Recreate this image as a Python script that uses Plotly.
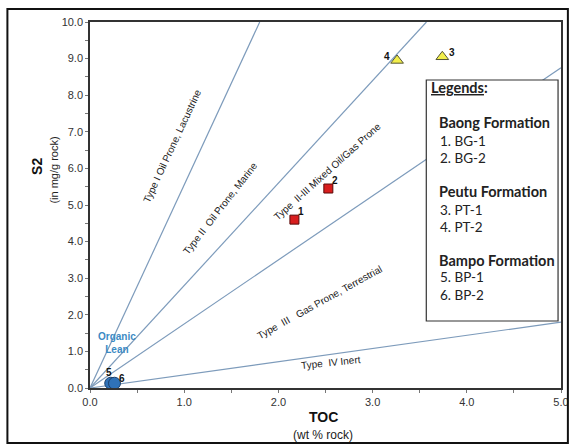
import plotly.graph_objects as go

# ---------------- data ----------------
baong_toc = [2.17, 2.53]
baong_s2 = [4.60, 5.45]
baong_lbl = ["1", "2"]

peutu_toc = [3.74, 3.26]
peutu_s2 = [9.05, 8.95]
peutu_lbl = ["3", "4"]

bampo_toc = [0.22, 0.26]
bampo_s2 = [0.13, 0.13]
bampo_lbl = ["5", "6"]

# kerogen boundary slopes (S2/TOC)
boundary_slopes = [5.55, 2.80, 1.75, 0.36]

x_ticks = [0, 1, 2, 3, 4, 5]
y_ticks = [0, 1, 2, 3, 4, 5, 6, 7, 8, 9, 10]

legend_groups = ["Baong Formation", "Peutu Formation", "Bampo Formation"]
legend_items = [["1. BG-1", "2. BG-2"], ["3. PT-1", "4. PT-2"], ["5. BP-1", "6. BP-2"]]

XMAX, YMAX = 5.0, 10.0

# ---------------- layout geometry ----------------
W, H = 578, 445
L, R, T, B = 90, 9, 22, 57
PW = W - L - R
PH = H - T - B


def px(x):
    return (x - L) / PW


def py(y):
    return (H - B - y) / PH


fig = go.Figure()

LINE_C = "#7d9bbb"
for s in boundary_slopes:
    xe = min(XMAX, YMAX / s)
    fig.add_trace(go.Scatter(x=[0, xe], y=[0, s * xe], mode="lines",
                             line=dict(color=LINE_C, width=1.2),
                             hoverinfo="skip", showlegend=False))

fig.add_trace(go.Scatter(x=baong_toc, y=baong_s2, mode="markers",
                         marker=dict(symbol="square", size=9, color="#d81e1e",
                                     line=dict(color="#5a0a0a", width=1)),
                         showlegend=False))
fig.add_trace(go.Scatter(x=peutu_toc, y=peutu_s2, mode="markers",
                         marker=dict(symbol="triangle-up", size=11, color="#f2ee4a",
                                     line=dict(color="#555533", width=1)),
                         showlegend=False))
fig.add_trace(go.Scatter(x=bampo_toc, y=bampo_s2, mode="markers",
                         marker=dict(symbol="circle", size=12, color="#2f72b8",
                                     line=dict(color="#1b3f6b", width=1)),
                         showlegend=False))

ann = []


def add_ann(**kw):
    kw.setdefault("xanchor", "center")
    kw.setdefault("yanchor", "middle")
    kw.setdefault("showarrow", False)
    ann.append(kw)


lab_font = dict(family="Liberation Sans, Arial", size=10, color="#111111")
offs = {"1": (7, 8), "2": (7, 8), "3": (10, 4), "4": (-10, 4), "5": (-2, 11), "6": (8, 5)}
for xs, ys, ls in [(baong_toc, baong_s2, baong_lbl), (peutu_toc, peutu_s2, peutu_lbl),
                   (bampo_toc, bampo_s2, bampo_lbl)]:
    for x, y, l in zip(xs, ys, ls):
        dx, dy = offs[l]
        add_ann(x=x, y=y, text="<b>%s</b>" % l, xshift=dx, yshift=dy, font=lab_font)

type_font = dict(family="Liberation Sans, Arial", size=10, color="#222222")
type_labels = [
    ("Type I Oil Prone, Lacustrine", 173, 146, -65),
    ("Type II  Oil Prone, Marine", 222, 208, -52),
    ("Type  II-III Mixed Oil/Gas Prone", 331, 171, -42),
    ("Type  III   Gas Prone, Terrestrial", 323, 302, -29),
    ("Type  IV Inert", 335, 362, -6),
]
for t, x, y, a in type_labels:
    add_ann(x=px(x), y=py(y), xref="paper", yref="paper", text=t, textangle=a, font=type_font)

add_ann(x=px(117), y=py(343), xref="paper", yref="paper",
        text="<b>Organic</b><br><b>Lean</b>",
        font=dict(family="Liberation Sans, Arial", size=10, color="#3b8ac4"))

# axis titles
add_ann(x=px(327), y=py(417), xref="paper", yref="paper", text="<b>TOC</b>",
        font=dict(family="Liberation Sans, Arial", size=14, color="#111"))
add_ann(x=px(327), y=py(435), xref="paper", yref="paper", text="(wt % rock)",
        font=dict(family="Liberation Sans, Arial", size=12, color="#222"))
add_ann(x=px(36), y=py(166), xref="paper", yref="paper", text="<b>S2</b>", textangle=-90,
        font=dict(family="Liberation Sans, Arial", size=14, color="#111"))
add_ann(x=px(53), y=py(170), xref="paper", yref="paper", text="(in mg/g rock)", textangle=-90,
        font=dict(family="Liberation Sans, Arial", size=11, color="#222"))

# legend box content
lg_font = dict(family="Lato, Open Sans, sans-serif", size=13.5, color="#222")
lg_head_font = dict(family="Lato, Open Sans, sans-serif", size=14.5, color="#222")
add_ann(x=px(435), y=py(88), xref="paper", yref="paper", xanchor="left",
        text="<b><u>Legends</u>:</b>", font=lg_head_font)
head_y = [123, 192, 260]
item_y = [[141, 158], [210, 227], [277, 295]]
for g, hy, items, iys in zip(legend_groups, head_y, legend_items, item_y):
    add_ann(x=px(443), y=py(hy), xref="paper", yref="paper", xanchor="left",
            text="<b>%s</b>" % g, font=lg_head_font)
    for t, iy in zip(items, iys):
        add_ann(x=px(444), y=py(iy), xref="paper", yref="paper", xanchor="left",
                text=t, font=lg_font)

shapes = [
    dict(type="rect", xref="paper", yref="paper", x0=px(432), x1=px(566), y0=py(321), y1=py(80),
         line=dict(color="#333333", width=1.2), fillcolor="white", layer="above"),
    dict(type="rect", xref="paper", yref="paper", x0=px(6), x1=px(576), y0=py(443), y1=py(9),
         line=dict(color="#111111", width=2), fillcolor="rgba(0,0,0,0)", layer="above"),
]

axis_common = dict(showgrid=False, zeroline=False, showline=True, linecolor="#333", linewidth=1.5,
                   mirror=True, ticks="outside", ticklen=3, tickcolor="#777",
                   minor=dict(dtick=0.5, ticks="outside", ticklen=3, tickcolor="#777"),
                   tickfont=dict(family="Liberation Sans, Arial", size=11, color="#333"))

fig.update_layout(
    width=W, height=H,
    margin=dict(l=L, r=R, t=T, b=B),
    paper_bgcolor="white", plot_bgcolor="white",
    annotations=ann, shapes=shapes, showlegend=False,
    xaxis=dict(range=[0, XMAX], tickvals=x_ticks, ticktext=["%.1f" % v for v in x_ticks],
               **axis_common),
    yaxis=dict(range=[0, YMAX], tickvals=y_ticks, ticktext=["%.1f" % v for v in y_ticks],
               **axis_common),
)

# legend markers inside box
mk_style = [
    dict(symbol="square", size=8, color="#d81e1e", line=dict(color="#5a0a0a", width=1)),
    dict(symbol="triangle-up", size=9, color="#f2ee4a", line=dict(color="#555533", width=1)),
    dict(symbol="circle", size=8, color="#2f72b8", line=dict(color="#1b3f6b", width=1)),
]
for hy, m in zip(head_y, mk_style):
    fig.add_trace(go.Scatter(x=[px(438)], y=[py(hy)], xaxis="x2", yaxis="y2", mode="markers",
                             marker=m, showlegend=False, hoverinfo="skip"))
fig.update_layout(
    xaxis2=dict(range=[0, 1], overlaying="x", visible=False, fixedrange=True),
    yaxis2=dict(range=[0, 1], overlaying="y", visible=False, fixedrange=True),
)

fig.write_html("out.html", config={"displayModeBar": False},
               post_script="document.body.style.margin='0';document.body.style.overflow='hidden';")
